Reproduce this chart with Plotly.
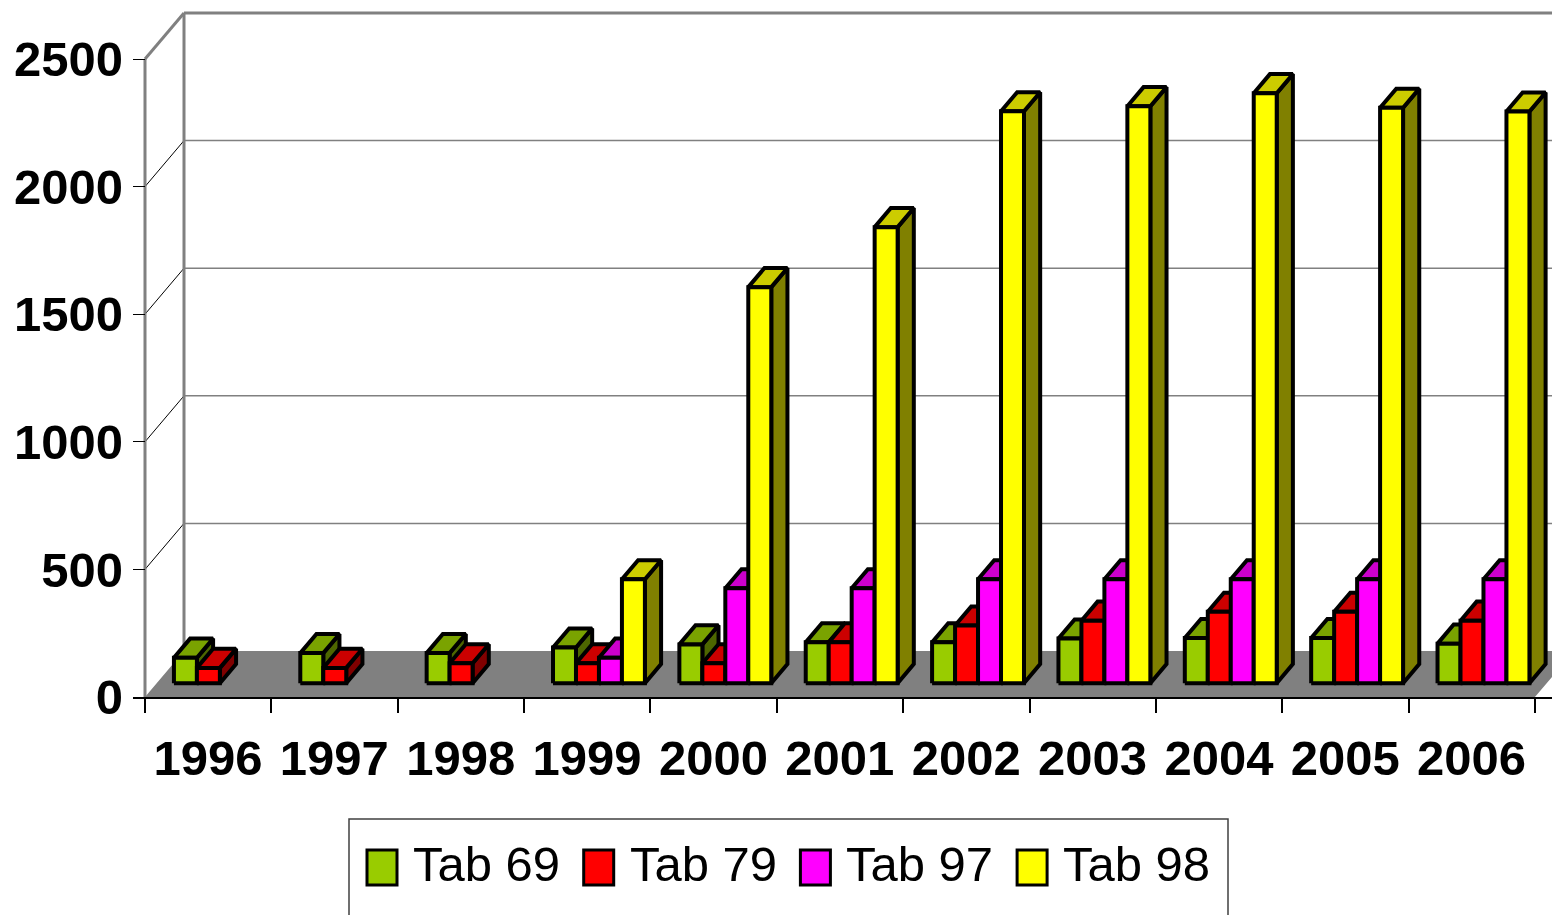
import plotly.graph_objects as go

# ---------------- data ----------------
years = ["1996", "1997", "1998", "1999", "2000", "2001", "2002", "2003", "2004", "2005", "2006"]
series_names = ["Tab 69", "Tab 79", "Tab 97", "Tab 98"]
tab69 = [100, 118, 118, 140, 152, 160, 160, 175, 177, 177, 155]
tab79 = [60, 60, 78, 78, 78, 160, 226, 245, 280, 280, 245]
tab97 = [0, 0, 0, 100, 372, 372, 407, 407, 407, 407, 407]
tab98 = [0, 0, 0, 407, 1552, 1787, 2241, 2261, 2312, 2255, 2240]
y_ticks = [0, 500, 1000, 1500, 2000, 2500]

series = [tab69, tab79, tab97, tab98]
front_colors = ["#99CC00", "#FF0000", "#FF00FF", "#FFFF00"]
top_colors = ["#7AA300", "#CC0000", "#CC00CC", "#CCCC00"]
side_colors = ["#4D6600", "#800000", "#800080", "#808000"]

# ---------------- geometry ----------------
PAGE_OFF = 8                     # default body margin of the html page
W, H = 1560, 915
PLOT_LEFT_SCR, PLOT_BOTTOM_SCR = 133, 697
ML = PLOT_LEFT_SCR - PAGE_OFF
MB = H - (PLOT_BOTTOM_SCR - PAGE_OFF)
PX_PER_CAT = 126.36
PX_PER_UNIT = 0.2552
FRONT_X_SCR = 145                # screen pixel of x = 0
DEPTH_X = 39 / PX_PER_CAT        # oblique depth, in data units
DEPTH_Y = 46 / PX_PER_UNIT
F0, F1 = 0.30, 0.715             # bar depth band
BAR_W = 1 / 5.5
GAP = 0.75 * BAR_W
N = len(years)

X_MIN = -(FRONT_X_SCR - PLOT_LEFT_SCR) / PX_PER_CAT
X_MAX = (W + PAGE_OFF - FRONT_X_SCR) / PX_PER_CAT
Y_MAX = (H - MB) / PX_PER_UNIT
X_FAR = X_MAX + 1

FONT = "Liberation Sans, Arial, sans-serif"

fig = go.Figure()

# ---------------- bars ----------------
ax, ay = F0 * DEPTH_X, F0 * DEPTH_Y
bx, by = F1 * DEPTH_X, F1 * DEPTH_Y
for k in range(N):
    for s, vals in enumerate(series):
        v = vals[k]
        if not v:
            continue
        x0 = k + GAP + s * BAR_W
        x1 = x0 + BAR_W
        faces = [
            ([x1 + ax, x1 + bx, x1 + bx, x1 + ax, x1 + ax], [ay, by, v + by, v + ay, ay], side_colors[s]),
            ([x0 + ax, x1 + ax, x1 + bx, x0 + bx, x0 + ax], [v + ay, v + ay, v + by, v + by, v + ay], top_colors[s]),
            ([x0 + ax, x1 + ax, x1 + ax, x0 + ax, x0 + ax], [ay, ay, v + ay, v + ay, ay], front_colors[s]),
        ]
        for fx, fy, col in faces:
            fig.add_trace(go.Scatter(
                x=fx, y=fy, mode="lines", fill="toself", fillcolor=col,
                line=dict(color="black", width=4), showlegend=False,
                name=f"{series_names[s]} {years[k]}", hoverinfo="name",
            ))

# ---------------- walls / floor ----------------
shapes = []
shapes.append(dict(type="path", xref="x", yref="y", layer="below",
                   path=f"M0,0 L{N},0 L{N + DEPTH_X},{DEPTH_Y} L{X_FAR},{DEPTH_Y} L{DEPTH_X},{DEPTH_Y} Z",
                   fillcolor="#808080", line=dict(width=0)))
for v in y_ticks[1:-1]:
    shapes.append(dict(type="line", xref="x", yref="y", layer="below",
                       x0=DEPTH_X, y0=v + DEPTH_Y, x1=X_FAR, y1=v + DEPTH_Y,
                       line=dict(color="#808080", width=1.5)))
    shapes.append(dict(type="line", xref="x", yref="y", layer="below",
                       x0=0, y0=v, x1=DEPTH_X, y1=v + DEPTH_Y,
                       line=dict(color="black", width=1)))
top = y_ticks[-1]
wall_lines = [
    (0, 0, 0, top),
    (0, top, DEPTH_X, top + DEPTH_Y),
    (DEPTH_X, DEPTH_Y, DEPTH_X, top + DEPTH_Y),
    (DEPTH_X, top + DEPTH_Y, X_FAR, top + DEPTH_Y),
]
for x0, y0, x1, y1 in wall_lines:
    shapes.append(dict(type="line", xref="x", yref="y", layer="below",
                       x0=x0, y0=y0, x1=x1, y1=y1,
                       line=dict(color="#808080", width=3)))

# ---------------- custom legend (screen pixels -> paper) ----------------
PW, PH = W - ML, H - MB


def pxx(px):
    return (px - PAGE_OFF - ML) / PW


def pxy(py):
    return (PH - (py - PAGE_OFF)) / PH


shapes.append(dict(type="rect", xref="paper", yref="paper",
                   x0=pxx(349), x1=pxx(1228), y0=pxy(940), y1=pxy(819),
                   line=dict(color="#404040", width=1.5), fillcolor="white"))
annotations = []
for i, name in enumerate(series_names):
    sx = 367 + 216.7 * i
    shapes.append(dict(type="rect", xref="paper", yref="paper",
                       x0=pxx(sx), x1=pxx(sx + 30), y0=pxy(885), y1=pxy(850),
                       line=dict(color="black", width=3), fillcolor=front_colors[i]))
    annotations.append(dict(xref="paper", yref="paper", x=pxx(sx + 44), y=pxy(864),
                            xanchor="left", yanchor="middle", showarrow=False,
                            text=name, font=dict(family=FONT, size=49, color="black")))

fig.update_layout(
    width=W, height=H,
    margin=dict(l=ML, r=0, t=0, b=MB, autoexpand=False),
    paper_bgcolor="white", plot_bgcolor="white",
    showlegend=False,
    shapes=shapes, annotations=annotations,
    xaxis=dict(range=[X_MIN, X_MAX], tickvals=list(range(N + 1)), ticktext=years + [""],
               ticks="outside", ticklen=14, tickwidth=1.5, tickcolor="black",
               showline=True, linecolor="black", linewidth=2, tickangle=0,
               showgrid=False, zeroline=False, ticklabelshift=int(round(PX_PER_CAT / 2)),
               ticklabelstandoff=3,
               tickfont=dict(family=FONT, size=49, color="black", weight="bold")),
    yaxis=dict(range=[0, Y_MAX], tickvals=y_ticks, ticktext=[str(t) for t in y_ticks],
               ticks="inside", ticklen=12, tickwidth=1, tickcolor="black",
               showline=False, showgrid=False, zeroline=False,
               ticklabelstandoff=9,
               tickfont=dict(family=FONT, size=49, color="black", weight="bold")),
)

fig.write_html("out.html")
